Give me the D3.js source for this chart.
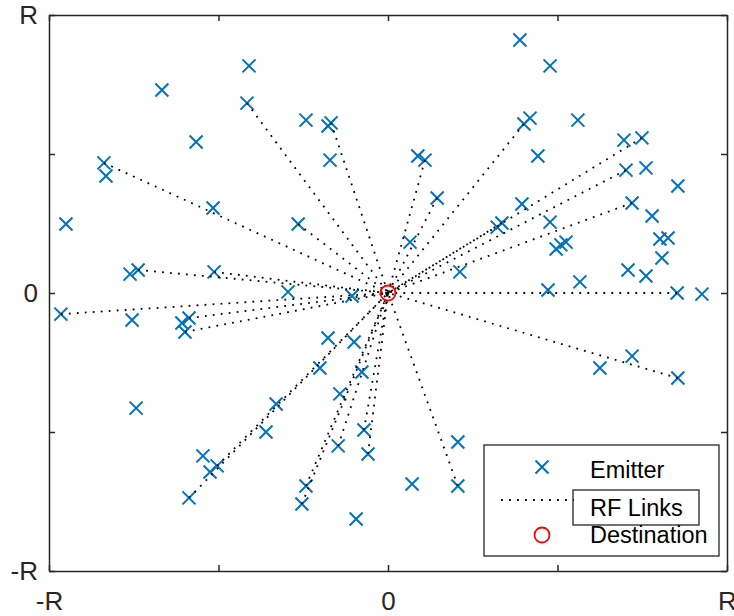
<!DOCTYPE html>
<html lang="en">
<head>
<meta charset="UTF-8">
<title>RF links</title>
<script src="https://cdnjs.cloudflare.com/ajax/libs/d3/7.8.5/d3.min.js"></script>
<style>
body { margin: 0; background: #fff; }
svg { display: block; font-family: "Liberation Sans", Arial, Helvetica, sans-serif; }
.axis text { fill: #262626; font-size: 26px; }
.axis line, .axis path { stroke: #262626; stroke-width: 1.5; }
.link { fill: none; stroke: #000; stroke-width: 1.8; stroke-dasharray: 1.8 6.2; }
.emitter { fill: none; stroke: #0072bd; stroke-width: 2; }
</style>
</head>
<body>
<script>
// emitter positions, in units of R
var emitterX = [
    0.389, 0.478, -0.410, -0.667, -0.416, -0.242, -0.177, -0.168, 0.419, 0.401,
    0.560, -0.566, 0.696, 0.749, -0.838, -0.832, -0.171, 0.088, 0.109, 0.442,
    0.702, 0.761, 0.855, -0.950, -0.516, 0.145, 0.395, 0.720, 0.779, -0.265,
    0.322, 0.336, 0.478, 0.065, 0.802, 0.826, 0.496, 0.510, 0.525, 0.808,
    -0.761, -0.737, -0.513, 0.212, 0.708, 0.761, 0.566, -0.295, -0.106, 0.472,
    0.853, 0.926, -0.965, -0.755, -0.587, -0.608, -0.599, -0.177, -0.100, 0.720,
    0.625, 0.855, -0.201, -0.077, -0.743, -0.330, -0.142, -0.360, -0.071, 0.206,
    -0.546, -0.504, -0.525, -0.147, -0.059, -0.587, -0.242, -0.254, 0.071, 0.206,
    -0.094
];
var emitterY = [
    0.910, 0.817, 0.817, 0.730, 0.683, 0.622, 0.601, 0.612, 0.629, 0.608,
    0.622, 0.543, 0.550, 0.558, 0.468, 0.421, 0.478, 0.493, 0.478, 0.493,
    0.442, 0.450, 0.385, 0.248, 0.306, 0.342, 0.320, 0.324, 0.277, 0.248,
    0.237, 0.252, 0.255, 0.183, 0.194, 0.198, 0.158, 0.173, 0.183, 0.126,
    0.068, 0.083, 0.076, 0.076, 0.083, 0.061, 0.040, 0.004, -0.011, 0.011,
    0.000, -0.004, -0.076, -0.097, -0.090, -0.108, -0.140, -0.162, -0.176, -0.227,
    -0.270, -0.306, -0.270, -0.284, -0.414, -0.399, -0.363, -0.500, -0.493, -0.536,
    -0.586, -0.622, -0.644, -0.550, -0.579, -0.737, -0.694, -0.759, -0.687, -0.694,
    -0.813
];
// 1 = emitter has an RF link to the destination
var linked = [
    0, 0, 0, 0, 1, 0, 0, 1, 0, 1,
    0, 0, 0, 1, 1, 0, 0, 0, 1, 0,
    1, 0, 0, 0, 0, 1, 0, 1, 0, 1,
    0, 1, 0, 0, 0, 0, 0, 0, 0, 0,
    0, 1, 1, 0, 0, 0, 0, 0, 0, 0,
    1, 0, 1, 0, 1, 0, 1, 0, 0, 0,
    0, 1, 0, 0, 0, 0, 0, 0, 1, 0,
    0, 1, 0, 1, 1, 1, 1, 1, 0, 1,
    0
];
var destination = [0, 0];

var tickValues = [-1, -0.5, 0, 0.5, 1];
var tickLabels = {"-1": "-R", "0": "0", "1": "R"};
var legendLabels = ["Emitter", "RF Links", "Destination"];

var width = 734, height = 616;
var margin = {top: 15, right: 7, bottom: 45, left: 49};

var svg = d3.select("body").append("svg")
    .attr("width", width)
    .attr("height", height);

var x = d3.scaleLinear().domain([-1, 1]).range([margin.left, width - margin.right]);
var y = d3.scaleLinear().domain([-1, 1]).range([height - margin.bottom, margin.top]);

function fmt(d) { return tickLabels[String(d)] || ""; }

// axes, ticks pointing inwards, mirrored on top and right
svg.append("g").attr("class", "axis")
    .attr("transform", "translate(0," + y(-1) + ")")
    .call(d3.axisBottom(x).tickValues(tickValues).tickFormat(fmt)
        .tickSizeInner(-6).tickSizeOuter(0).tickPadding(21));
svg.append("g").attr("class", "axis")
    .attr("transform", "translate(0," + y(1) + ")")
    .call(d3.axisTop(x).tickValues(tickValues).tickFormat("")
        .tickSizeInner(-6).tickSizeOuter(0));
svg.append("g").attr("class", "axis")
    .attr("transform", "translate(" + x(-1) + ",0)")
    .call(d3.axisLeft(y).tickValues(tickValues).tickFormat(fmt)
        .tickSizeInner(-6).tickSizeOuter(0).tickPadding(11));
svg.append("g").attr("class", "axis")
    .attr("transform", "translate(" + x(1) + ",0)")
    .call(d3.axisRight(y).tickValues(tickValues).tickFormat("")
        .tickSizeInner(-6).tickSizeOuter(0));
svg.selectAll(".axis .tick line").attr("stroke", "#262626");
svg.selectAll(".axis text").attr("fill", "#262626");

var emitters = emitterX.map(function(d, i) {
    return {x: d, y: emitterY[i], linked: linked[i] === 1};
});

var cross = "M-6.5,-6.5L6.5,6.5M-6.5,6.5L6.5,-6.5";

svg.append("g").selectAll("path")
    .data(emitters)
    .enter()
    .append("path")
    .attr("class", "emitter")
    .attr("transform", function(d) { return "translate(" + x(d.x) + "," + y(d.y) + ")"; })
    .attr("d", cross);

svg.append("g").selectAll("line")
    .data(emitters.filter(function(d) { return d.linked; }))
    .enter()
    .append("line")
    .attr("class", "link")
    .attr("x1", function(d) { return x(d.x); })
    .attr("y1", function(d) { return y(d.y); })
    .attr("x2", x(destination[0]))
    .attr("y2", y(destination[1]));

svg.append("circle")
    .attr("cx", x(destination[0]))
    .attr("cy", y(destination[1]))
    .attr("r", 7.5)
    .attr("fill", "none")
    .attr("stroke", "#ff0000")
    .attr("stroke-width", 1.8);

// legend
var lg = svg.append("g").attr("transform", "translate(484,445)");
lg.append("rect")
    .attr("x", 0).attr("y", 0)
    .attr("width", 235).attr("height", 111)
    .attr("fill", "#fff")
    .attr("stroke", "#262626")
    .attr("stroke-width", 1.3);
lg.append("path")
    .attr("class", "emitter")
    .attr("transform", "translate(58,22)")
    .attr("d", cross);
lg.append("line")
    .attr("class", "link")
    .attr("x1", 17).attr("x2", 90)
    .attr("y1", 55).attr("y2", 55);
lg.append("circle")
    .attr("cx", 58).attr("cy", 90).attr("r", 7.5)
    .attr("fill", "none")
    .attr("stroke", "#ff0000")
    .attr("stroke-width", 1.8);
lg.append("rect")
    .attr("x", 89).attr("y", 45)
    .attr("width", 126).attr("height", 35)
    .attr("fill", "none")
    .attr("stroke", "#262626")
    .attr("stroke-width", 1.3);
lg.selectAll("text.lbl")
    .data(legendLabels)
    .enter()
    .append("text")
    .attr("class", "lbl")
    .attr("x", 106)
    .attr("y", function(d, i) { return [33, 71, 98][i]; })
    .style("font-size", "23.5px")
    .attr("fill", "#000")
    .text(function(d) { return d; });
</script>
</body>
</html>
